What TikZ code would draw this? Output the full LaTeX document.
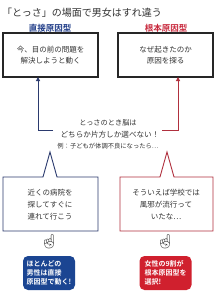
\documentclass[tikz,border=0pt]{standalone}
\usepackage{fontspec}
\newfontfamily\cjk{Noto Sans CJK JP}[BoldFont={Noto Sans CJK JP Bold}]
\newfontfamily\emoji{Noto Emoji}
\usetikzlibrary{arrows.meta}
\definecolor{labblue}{HTML}{1F3C88}
\definecolor{labred}{HTML}{C8283C}
\definecolor{fillblue}{HTML}{1B4592}
\definecolor{fillred}{HTML}{D0202E}
\definecolor{lineblue}{HTML}{2B3A6E}
\definecolor{linered}{HTML}{B0303E}
\definecolor{ink}{HTML}{333333}
\tikzset{
  topbox/.style={draw=black!85, line width=1.1pt, minimum width=95pt, minimum height=44pt,
    inner sep=0pt, align=center, text=ink, font=\cjk\fontsize{7.5}{11}\selectfont},
  typelabel/.style={inner sep=0pt, font=\cjk\bfseries\fontsize{8.5}{10}\selectfont},
  bubbletext/.style={inner sep=0pt, align=center, text=ink, font=\cjk\fontsize{7.5}{12}\selectfont},
  midtext/.style={inner sep=0pt, text=ink},
  conn/.style={line width=1pt, -{Triangle[length=4pt,width=4pt]}},
  hand/.style={inner sep=0pt, text=black!75, font=\emoji\fontsize{14}{14}\selectfont},
  resultbox/.style={rounded corners=5pt, minimum width=52pt, minimum height=34pt, inner sep=2pt,
    align=left, text=white, font=\cjk\bfseries\fontsize{7}{9}\selectfont}
}
\begin{document}
\begin{tikzpicture}[x=1pt,y=-1pt]
\useasboundingbox (0,0) rectangle (221,300);
\fill[white] (0,0) rectangle (221,300);
% title
\node[anchor=west, inner sep=0pt, text=ink, font=\cjk\fontsize{10}{12}\selectfont] (title) at (2,13) {「とっさ」の場面で男女はすれ違う};
% type labels
\node[typelabel, text=labblue] (lab1) at (50,28) {直接原因型};
\node[typelabel, text=labred] (lab2) at (166,28) {根本原因型};
% top boxes
\node[topbox] (box1) at (50.5,55) {今、目の前の問題を\\解決しようと動く};
\node[topbox] (box2) at (165.5,55) {なぜ起きたのか\\原因を探る};
% middle text
\node[midtext, font=\cjk\fontsize{7.2}{9}\selectfont] (q1) at (108,123) {とっさのとき脳は};
\node[midtext, font=\cjk\fontsize{7.6}{9}\selectfont] (q2) at (110,135) {どちらか片方しか選べない！};
\node[midtext, font=\cjk\fontsize{6.3}{8}\selectfont] (q3) at (108,146) {例：子どもが体調不良になったら…};
% connectors
\coordinate (la) at (53,130);
\coordinate (lt) at (38,77);
\coordinate (ra) at (162,130);
\coordinate (rt) at (178,77);
\draw[conn, lineblue] (la) -| (lt);
\draw[conn, linered] (ra) -| (rt);
% speech bubbles
\draw[lineblue, line width=0.9pt, fill=white] (3,177) -- (43,177) -- (50,152) -- (57,177) -- (98,177) -- (98,231) -- (3,231) -- cycle;
\draw[linered, line width=0.9pt, fill=white] (120,177) -- (160,177) -- (167,152) -- (174,177) -- (213,177) -- (213,231) -- (120,231) -- cycle;
\node[bubbletext] (b1) at (50,205) {近くの病院を\\探してすぐに\\連れて行こう};
\node[bubbletext] (b2) at (166,205) {そういえば学校では\\風邪が流行って\\いたな…};
% hands
\node[hand] (h1) at (49,242) {☝};
\node[hand] (h2) at (165,242) {☝};
% result boxes
\node[resultbox, fill=fillblue] (r1) at (49,273) {ほとんどの\\男性は直接\\原因型で動く!};
\node[resultbox, fill=fillred] (r2) at (165.5,273) {女性の9割が\\根本原因型を\\選択!};
\end{tikzpicture}
\end{document}
